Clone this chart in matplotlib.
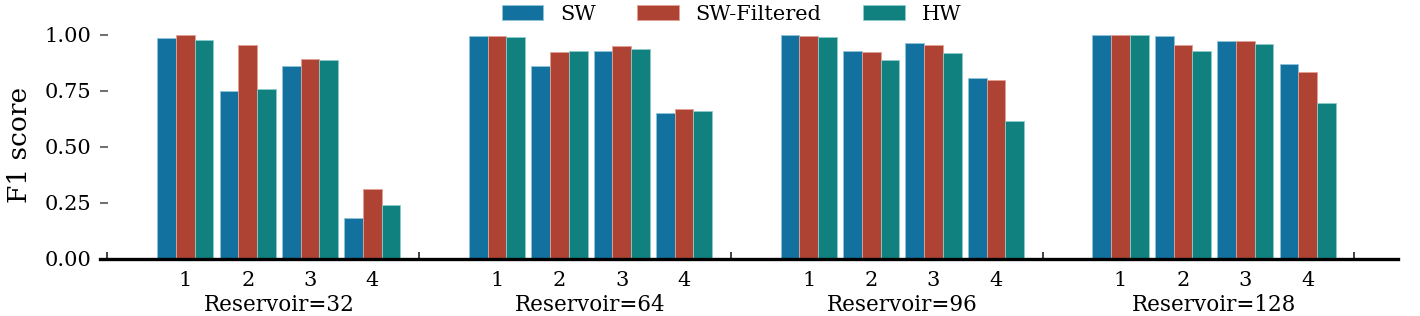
import matplotlib.pyplot as plt
import numpy as np

# Datos (F1 score por reservorio y caso)
reservorios = [32, 64, 96, 128]
casos = ['1', '2', '3', '4']
series = ['SW', 'SW-Filtered', 'HW']

sw = [[0.985, 0.751, 0.860, 0.183],
      [0.996, 0.860, 0.929, 0.651],
      [0.998, 0.929, 0.962, 0.807],
      [0.998, 0.996, 0.973, 0.869]]
sw_filtrado = [[0.998, 0.957, 0.894, 0.314],
               [0.996, 0.923, 0.951, 0.669],
               [0.997, 0.925, 0.957, 0.800],
               [0.998, 0.957, 0.973, 0.836]]
hw = [[0.979, 0.760, 0.890, 0.239],
      [0.990, 0.929, 0.939, 0.660],
      [0.990, 0.890, 0.920, 0.618],
      [0.998, 0.929, 0.960, 0.698]]

colores = ['#12719e', '#ae4333', '#10817f']
bordes = ['#8fc3d8', '#e2a196', '#8ccdcb']

plt.rcParams['font.family'] = 'DejaVu Serif'

fig = plt.figure(figsize=(14.2, 3.16), dpi=100)
ax = fig.add_axes([0.0704, 0.1804, 0.9141, 0.7231])

ancho = 0.3
paso_grupo = len(casos) + 1
pos_casos = []
for g in range(len(reservorios)):
    base = g * paso_grupo
    for c in range(len(casos)):
        pos_casos.append(base + c)
pos_casos = np.array(pos_casos, dtype=float)

datos = [np.array(sw).ravel(), np.array(sw_filtrado).ravel(), np.array(hw).ravel()]
for i, (nombre, vals) in enumerate(zip(series, datos)):
    ax.bar(pos_casos + (i - 1) * ancho, vals, width=ancho, color=colores[i],
           edgecolor=bordes[i], linewidth=0.6, label=nombre, zorder=2)

# Eje x: marcas mayores entre grupos, etiquetas de caso como ticks menores
limites = np.arange(-1.25, len(reservorios) * paso_grupo, 2.5)
ax.set_xticks(limites)
ax.set_xticklabels([])
ax.set_xticks(pos_casos, minor=True)
ax.set_xticklabels(casos * len(reservorios), minor=True)
ax.tick_params(axis='x', which='major', direction='in', length=5, width=1.2, color='#222222')
ax.tick_params(axis='x', which='minor', length=0, pad=9, labelsize=15)

for g, r in enumerate(reservorios):
    centro = g * paso_grupo + (len(casos) - 1) / 2
    ax.text(centro, -0.155, f'Reservoir={r}', transform=ax.get_xaxis_transform(),
            ha='center', va='top', fontsize=15.5)

ax.set_xlim(-1.37, 19.45)
ax.set_ylim(0, 1.02)
ax.set_yticks([0, 0.25, 0.5, 0.75, 1.0])
ax.set_yticklabels(['0.00', '0.25', '0.50', '0.75', '1.00'])
ax.tick_params(axis='y', direction='in', length=6, width=1.2, color='#555555', pad=6, labelsize=15)
ax.set_ylabel('F1 score', fontsize=19, labelpad=9)

for lado in ['top', 'right', 'left']:
    ax.spines[lado].set_visible(False)
ax.spines['bottom'].set_linewidth(2.4)
ax.spines['bottom'].set_zorder(3)

fig.legend(loc='center', bbox_to_anchor=(0.515, 0.955), ncol=3, frameon=False,
           fontsize=15)

plt.savefig('out.png', dpi=100)
